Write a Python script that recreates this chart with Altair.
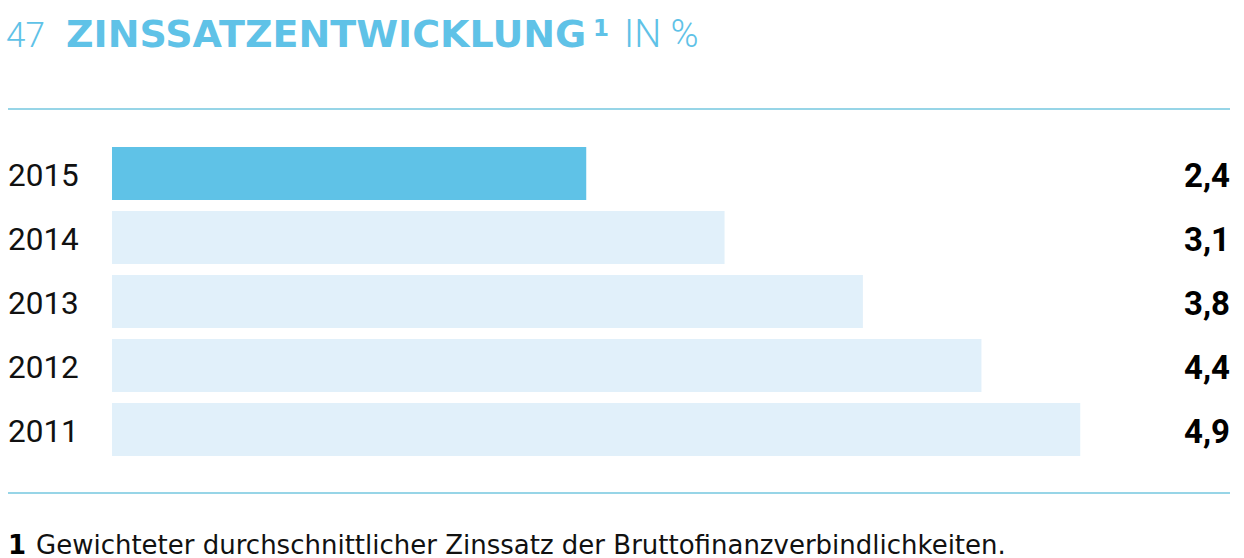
import altair as alt
import pandas as pd

years = ["2015", "2014", "2013", "2012", "2011"]
rates = [2.4, 3.1, 3.8, 4.4, 4.9]
highlight_year = "2015"

title_num = "47"
title_main = "ZINSSATZENTWICKLUNG"
title_sup = "1"
title_unit = "IN %"
foot_num = "1"
foot_text = "Gewichteter durchschnittlicher Zinssatz der Bruttofinanzverbindlichkeiten."

BLUE = "#5fc2e7"
LIGHT = "#e1f0fa"
RULE = "#74c7df"
FONT = "Roboto"
WIDE = "DejaVu Sans"

df = pd.DataFrame({"Jahr": years, "Zins": rates})

base = alt.Chart(df).encode(
    y=alt.Y("Jahr:N", sort=years, axis=None,
            scale=alt.Scale(paddingInner=0.17, paddingOuter=0.085))
)

bars = base.mark_bar().encode(
    x=alt.X("Zins:Q", axis=None, scale=alt.Scale(domain=[0, 5], nice=False)),
    color=alt.condition(alt.datum.Jahr == highlight_year, alt.value(BLUE), alt.value(LIGHT)),
)

year_labels = base.mark_text(align="left", baseline="middle", font=FONT,
                             fontSize=31.5, color="#111111", dy=3).encode(
    x=alt.value(-104), text="Jahr:N")

val_labels = base.transform_calculate(
    lbl="replace(format(datum.Zins, '.1f'), '.', ',')"
).mark_text(align="right", baseline="middle", font=FONT, fontWeight="bold",
            fontSize=33, color="#000000", dy=3).encode(
    x=alt.value(1118), text="lbl:N")

def txt(s, x, y, size, weight, color, font=FONT, align="left"):
    return alt.Chart(pd.DataFrame({"t": [s]})).mark_text(
        align=align, baseline="alphabetic", font=font, fontSize=size,
        fontWeight=weight, color=color
    ).encode(x=alt.value(x), y=alt.value(y), text="t:N")

def rule(y):
    return alt.Chart(pd.DataFrame({"a": [0]})).mark_rule(
        color=RULE, strokeWidth=1.6
    ).encode(x=alt.value(-104), x2=alt.value(1118), y=alt.value(y))

t1 = txt(title_num, -106, -95, 35, 300, BLUE)
t2 = txt(title_main, -46, -95, 38, "bold", BLUE, font=WIDE)
t3 = txt(title_sup, 481, -106, 23, "bold", BLUE, font=WIDE)
t4 = txt(title_unit, 512, -95, 38, 300, BLUE)
f1 = txt(foot_num, -104, 412, 26, "bold", "#000000", font=WIDE)
f2 = txt(foot_text, -76, 412, 26, "normal", "#111111", font=WIDE)

chart = alt.layer(
    bars, year_labels, val_labels, rule(-32.5), rule(351.5), t1, t2, t3, t4, f1, f2
).properties(
    width=988, height=320,
    padding={"left": 112, "top": 141.5, "right": 144, "bottom": 96.5},
    autosize=alt.AutoSizeParams(type="none"),
    background="white",
).configure_view(stroke=None, strokeWidth=0)

chart.save("out.html", embed_options={"renderer": "svg", "actions": False})
